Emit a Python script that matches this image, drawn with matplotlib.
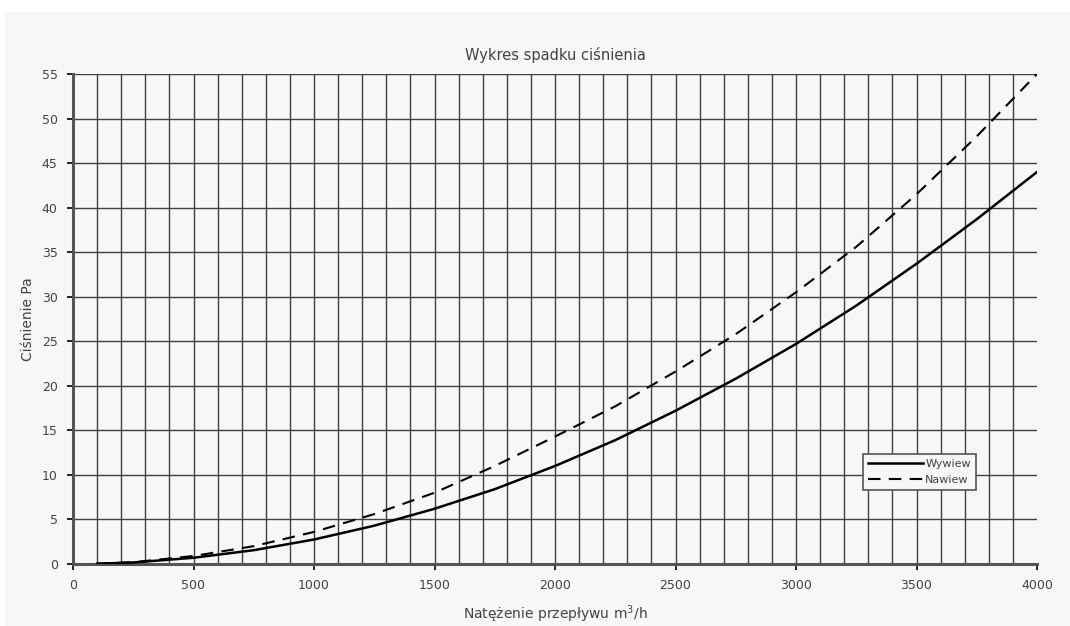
import matplotlib
matplotlib.use("Agg")
import matplotlib.pyplot as plt
from matplotlib.patches import Rectangle

# Data
flow = [100, 250, 500, 750, 1000, 1250, 1500, 1750, 2000, 2250, 2500,
        2750, 3000, 3250, 3500, 3750, 4000]
wywiew = [0.03, 0.17, 0.7, 1.55, 2.75, 4.3, 6.2, 8.4, 11.0, 13.9, 17.2,
          20.8, 24.7, 29.0, 33.7, 38.7, 44.0]
nawiew = [0.03, 0.2, 0.9, 2.0, 3.6, 5.6, 8.0, 11.0, 14.3, 17.7, 21.6,
          25.8, 30.5, 35.6, 41.5, 48.0, 55.0]
x_ticks = [0, 500, 1000, 1500, 2000, 2500, 3000, 3500, 4000]
y_ticks = [0, 5, 10, 15, 20, 25, 30, 35, 40, 45, 50, 55]

W, H = 1070, 626
fig = plt.figure(figsize=(W / 100, H / 100), dpi=100, facecolor="white")
bg = "#f7f7f7"
fig.patches.append(Rectangle((5 / W, 0), 1 - 5 / W, 1 - 12 / H,
                             transform=fig.transFigure, facecolor=bg,
                             edgecolor="none", zorder=-10))

ax = fig.add_axes([73 / W, 1 - 564 / H, (1037 - 73) / W, (564 - 74) / H])
ax.set_facecolor(bg)
ax.set_xlim(0, 4000)
ax.set_ylim(0, 55)

# grid
for gx in range(100, 4000, 100):
    ax.axvline(gx, color="#404040", lw=1.0, zorder=1)
for gy in range(5, 56, 5):
    ax.axhline(gy, color="#404040", lw=1.0, zorder=1)

ax.plot(flow, wywiew, color="black", lw=1.8, label="Wywiew", zorder=3)
ax.plot(flow, nawiew, color="black", lw=1.5, dashes=(6, 4), label="Nawiew", zorder=3)

for side in ("top", "right"):
    ax.spines[side].set_visible(False)
ax.spines["left"].set_color("#555555")
ax.spines["left"].set_linewidth(2.2)
ax.spines["bottom"].set_color("#555555")
ax.spines["bottom"].set_linewidth(2.2)

ax.set_xticks(x_ticks)
ax.set_yticks(y_ticks)
ax.tick_params(direction="out", length=4, width=1.2, color="black",
               labelsize=9, labelcolor="#444444", pad=7)

ax.set_title("Wykres spadku ciśnienia", fontsize=10.5, color="#444444", pad=10)
ax.set_xlabel("Natężenie przepływu m$^3$/h", fontsize=10, color="#444444", labelpad=8)
ax.set_ylabel("Ciśnienie Pa", fontsize=10, color="#444444", labelpad=5)

leg = ax.legend(loc="lower right", bbox_to_anchor=((976 - 73) / (1037 - 73), (564 - 490) / (564 - 74)),
                fontsize=8, frameon=True, fancybox=False, framealpha=1,
                handlelength=5, handletextpad=0.2, borderpad=0.45,
                labelspacing=0.55, borderaxespad=0)
leg.get_frame().set_edgecolor("#555555")
leg.get_frame().set_facecolor(bg)
leg.get_frame().set_linewidth(1.2)
for t in leg.get_texts():
    t.set_color("#444444")

fig.savefig("out.png", dpi=100, facecolor=fig.get_facecolor())
